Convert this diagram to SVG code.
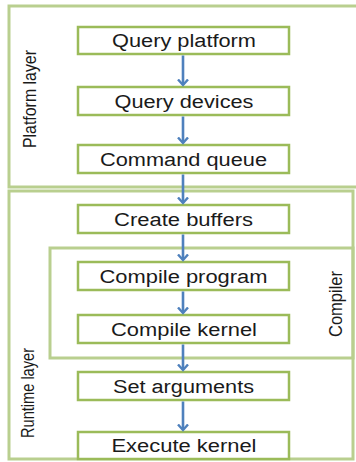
<svg xmlns="http://www.w3.org/2000/svg" width="356" height="462" viewBox="0 0 356 462">
<style>
.layer{fill:none;stroke:#b9cf8f;stroke-width:3}
.box{fill:#ffffff;stroke:#9bbb59;stroke-width:2.5}
.t{font-family:"Liberation Sans",Arial,sans-serif;font-size:18px;fill:#1a1a1a;text-anchor:middle}
.lbl{font-family:"Liberation Sans",Arial,sans-serif;font-size:18px;fill:#1a1a1a;text-anchor:middle}
.arr{stroke:#4f81bd;stroke-width:2.6;fill:none;marker-end:url(#ah)}
</style>
<defs>
<marker id="ah" markerWidth="12" markerHeight="12" refX="6" refY="6" orient="auto" markerUnits="userSpaceOnUse" viewBox="0 0 12 12">
<path d="M0.5,1 L6,6 L0.5,11" fill="none" stroke="#4f81bd" stroke-width="2.4"/>
</marker>
</defs>
<rect width="356" height="462" fill="#ffffff"/>
<g id="platform-layer">
<rect class="layer" x="9" y="6" width="360" height="181"/>
<text class="lbl" transform="translate(36,99) rotate(-90)" textLength="98" lengthAdjust="spacingAndGlyphs">Platform layer</text>
</g>
<g id="runtime-layer">
<rect class="layer" x="9" y="191" width="344" height="268"/>
<text class="lbl" transform="translate(34,393) rotate(-90)" textLength="90" lengthAdjust="spacingAndGlyphs">Runtime layer</text>
</g>
<g id="compiler">
<rect class="layer" x="50" y="248" width="303" height="110" stroke-width="2"/>
<text class="lbl" transform="translate(342,304) rotate(-90)" textLength="66" lengthAdjust="spacingAndGlyphs">Compiler</text>
</g>
<g id="query-platform">
<rect class="box" x="78" y="27" width="211" height="27"/>
<text class="t" x="184" y="47" textLength="144" lengthAdjust="spacingAndGlyphs">Query platform</text>
</g>
<g id="query-devices">
<rect class="box" x="78" y="87" width="211" height="28"/>
<text class="t" x="184" y="107.5" textLength="139" lengthAdjust="spacingAndGlyphs">Query devices</text>
</g>
<g id="command-queue">
<rect class="box" x="78" y="145" width="211" height="28"/>
<text class="t" x="183.5" y="165.5" textLength="167" lengthAdjust="spacingAndGlyphs">Command queue</text>
</g>
<g id="create-buffers">
<rect class="box" x="78" y="205" width="211" height="28"/>
<text class="t" x="183.5" y="225.5" textLength="139" lengthAdjust="spacingAndGlyphs">Create buffers</text>
</g>
<g id="compile-program">
<rect class="box" x="78" y="262" width="211" height="28"/>
<text class="t" x="183.5" y="282.5" textLength="168" lengthAdjust="spacingAndGlyphs">Compile program</text>
</g>
<g id="compile-kernel">
<rect class="box" x="78" y="315" width="211" height="28"/>
<text class="t" x="184" y="335.5" textLength="146" lengthAdjust="spacingAndGlyphs">Compile kernel</text>
</g>
<g id="set-arguments">
<rect class="box" x="78" y="372" width="211" height="28"/>
<text class="t" x="183.5" y="392.5" textLength="141" lengthAdjust="spacingAndGlyphs">Set arguments</text>
</g>
<g id="execute-kernel">
<rect class="box" x="78" y="432" width="211" height="27"/>
<text class="t" x="184" y="452" textLength="145" lengthAdjust="spacingAndGlyphs">Execute kernel</text>
</g>
<g id="connectors">
<line class="arr" x1="183" y1="55.5" x2="183" y2="85"/>
<line class="arr" x1="183" y1="116.5" x2="183" y2="143"/>
<line class="arr" x1="183" y1="174.5" x2="183" y2="203"/>
<line class="arr" x1="183" y1="234.5" x2="183" y2="260"/>
<line class="arr" x1="183" y1="291.5" x2="183" y2="313"/>
<line class="arr" x1="183" y1="344.5" x2="183" y2="370"/>
<line class="arr" x1="183" y1="401.5" x2="183" y2="430"/>
</g>
</svg>
